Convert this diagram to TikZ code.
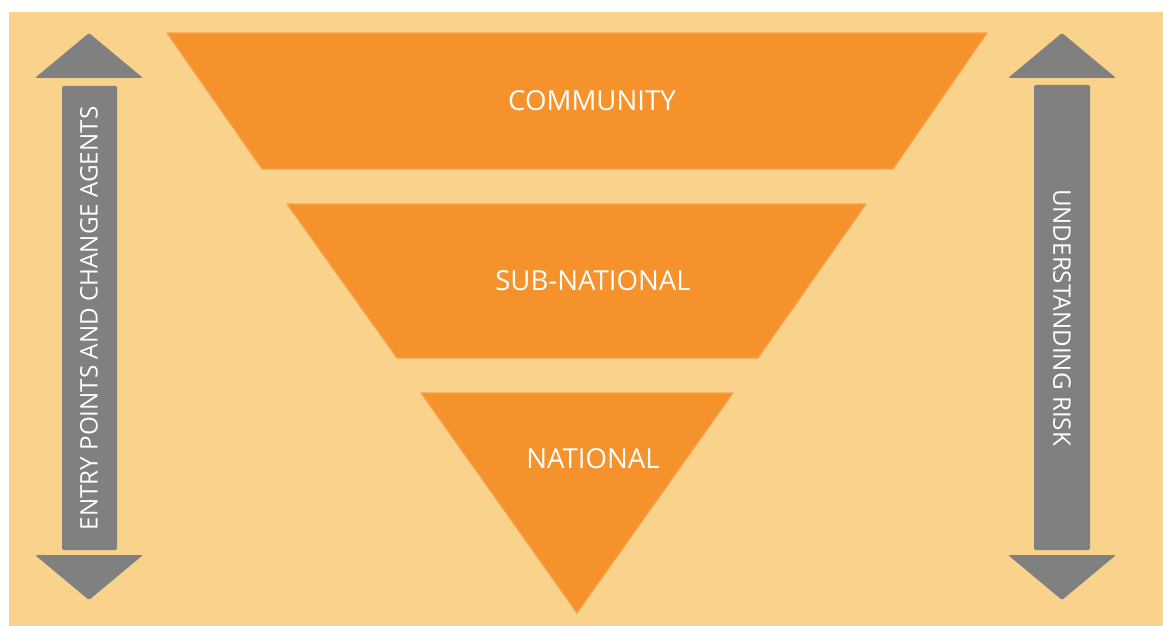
\documentclass[tikz,border=0pt]{standalone}
\usepackage{fontspec}
\setmainfont{Open Sans}
\definecolor{panel}{HTML}{F9D38C}
\definecolor{funnel}{HTML}{F5922B}
\definecolor{funnelrim}{HTML}{F7A24E}
\definecolor{arrowgrey}{HTML}{808080}

\begin{document}
\begin{tikzpicture}[x=1pt,y=-1pt,
  level/.style={fill=funnel,draw=funnelrim,line width=1.2pt,line join=round},
  arrowpart/.style={fill=arrowgrey,rounded corners=1.5pt},
  levellabel/.style={text=white,inner sep=0pt,font=\fontsize{27.6}{32}\selectfont},
  sidelabel/.style={text=white,inner sep=0pt,font=\fontsize{24.2}{28}\selectfont}]
\useasboundingbox (0,0) rectangle (1163,626);
% backdrop
\fill[panel] (9,12) rectangle (1163,626);

% funnel levels
\draw[level] (167,33) -- (987,33) -- (893,169) -- (262,169) -- cycle;
\draw[level] (287,204) -- (866,204) -- (758,358) -- (397,358) -- cycle;
\draw[level] (421,393) -- (733,393) -- (577,613) -- cycle;
\node[levellabel] (community) at (592,101) {COMMUNITY};
\node[levellabel] (subnational) at (593,281) {SUB-NATIONAL};
\node[levellabel] (national) at (593,459) {NATIONAL};

% left double arrow
\fill[arrowpart] (89,33) -- (143,78) -- (35,78) -- cycle;
\fill[arrowpart] (62,86) rectangle (117,550);
\fill[arrowpart] (35,555) -- (143,555) -- (89,600) -- cycle;
\node[sidelabel,rotate=90] (entry) at (89,318.5) {ENTRY POINTS AND CHANGE AGENTS};

% right double arrow
\fill[arrowpart] (1062,33) -- (1116,78) -- (1008,78) -- cycle;
\fill[arrowpart] (1034,85) rectangle (1090,550);
\fill[arrowpart] (1008,555) -- (1116,555) -- (1062,600) -- cycle;
\node[sidelabel,rotate=-90] (risk) at (1062,317.5) {UNDERSTANDING RISK};
\end{tikzpicture}
\end{document}
